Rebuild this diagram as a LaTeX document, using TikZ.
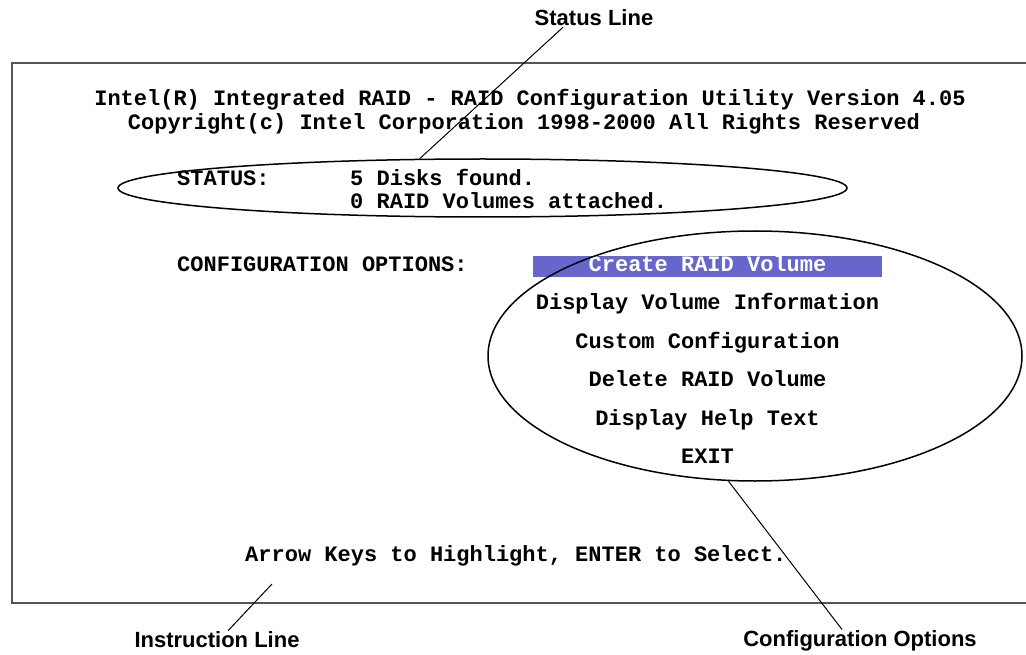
\documentclass[tikz,border=0pt]{standalone}
\usepackage{fontspec}
\setmainfont{Liberation Sans}
\newfontfamily\termfont{Liberation Mono}
\usepackage{xcolor}
\usepackage{tikz}
\usetikzlibrary{shapes.geometric, arrows}
\definecolor{selbar}{HTML}{6666CC}
\definecolor{screenedge}{HTML}{555555}
\tikzstyle{callout} = [font=\fontsize{22}{24}\selectfont\bfseries, inner sep=1pt]
\tikzstyle{screen} = [font=\termfont\fontsize{22}{24}\selectfont\bfseries, inner sep=0pt, text height=13pt, text depth=4pt]
\tikzstyle{menuitem} = [screen, minimum width=349pt, minimum height=21pt]
\tikzstyle{ring} = [ellipse, draw=black, line width=1.5pt, inner sep=0pt]
\tikzstyle{pointer} = [draw=black, line width=1pt]

\begin{document}
\begin{tikzpicture}[x=1pt, y=-1pt, node distance=38.4pt]
   \useasboundingbox (0,0) rectangle (1026,655);
   % screen
   \draw [screenedge, line width=2pt] (1026,63) -- (12,63) -- (12,603) -- (1026,603);
   \node (title) [screen] at (530,101) {Intel(R) Integrated RAID - RAID Configuration Utility Version 4.05};
   \node (copyright) [screen] at (524,125) {Copyright(c) Intel Corporation 1998-2000 All Rights Reserved};
   % status
   \node (statusell) [ring, minimum width=729pt, minimum height=58pt] at (482.5,188) {};
   \node (statuskey) [screen, anchor=west] at (177,181) {STATUS:};
   \node (disks) [screen, anchor=west] at (350,181) {5 Disks found.};
   \node (volumes) [screen, anchor=west] at (350,204) {0 RAID Volumes attached.};
   % options
   \node (cfgkey) [screen, anchor=west] at (177,267) {CONFIGURATION OPTIONS:};
   \node (create) [menuitem, fill=selbar, text=white] at (707.5,267) {Create RAID Volume};
   \node (display) [menuitem, below of=create] {Display Volume Information};
   \node (custom) [menuitem, below of=display] {Custom Configuration};
   \node (delete) [menuitem, below of=custom] {Delete RAID Volume};
   \node (help) [menuitem, below of=delete] {Display Help Text};
   \node (exit) [menuitem, below of=help] {EXIT};
   \node (cfgell) [ring, minimum width=534pt, minimum height=250pt] at (755,356) {};
   \node (hint) [screen, anchor=west] at (245,557) {Arrow Keys to Highlight, ENTER to Select.};
   % callouts
   \node (statuslbl) [callout] at (594,18) {Status Line};
   \node (instrlbl) [callout] at (217,640) {Instruction Line};
   \node (cfglbl) [callout] at (860,641) {Configuration Options};
   \coordinate (hinttip) at (272,584);
   \draw [pointer] ([xshift=-31pt]statuslbl.south) -- (statusell.155);
   \draw [pointer] ([xshift=11pt]instrlbl.north) -- (hinttip);
   \draw [pointer] (cfgell.258) -- ([xshift=-18pt]cfglbl.north);
\end{tikzpicture}
\end{document}
